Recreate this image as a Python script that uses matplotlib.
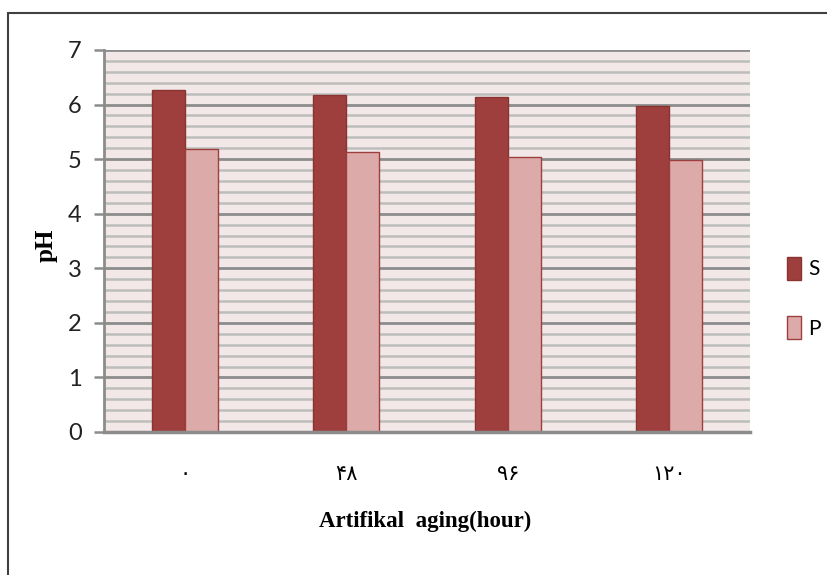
import matplotlib
matplotlib.use("Agg")
import matplotlib.pyplot as plt
import numpy as np
from matplotlib.patches import Rectangle

categories = ["۰", "۴۸", "۹۶", "۱۲۰"]
series_names = ["S", "P"]
s_values = [6.26, 6.17, 6.14, 5.97]
p_values = [5.18, 5.13, 5.04, 4.98]
y_ticks = [0, 1, 2, 3, 4, 5, 6, 7]

W, H = 828, 575
fig = plt.figure(figsize=(W / 100, H / 100), dpi=100)
ax = fig.add_axes([104 / W, 1 - 432 / H, (750 - 104) / W, (432 - 50) / H])
ax.set_facecolor("#F2E8E8")

x = np.arange(len(categories))
bw = 0.205
ax.bar(x - bw / 2, s_values, bw, color="#9E3F3D", edgecolor="#8A3432", linewidth=1, label=series_names[0], zorder=3)
ax.bar(x + bw / 2, p_values, bw, color="#DDAAAA", edgecolor="#9E3F3D", linewidth=1, label=series_names[1], zorder=3)

ax.set_xlim(-0.5, len(categories) - 0.5)
ax.set_ylim(0, 7)
ax.set_yticks(y_ticks)
ax.set_yticks(np.arange(0, 7.01, 0.2), minor=True)
ax.grid(axis="y", which="minor", color="#BDBDBD", linewidth=1.8, zorder=1)
ax.grid(axis="y", which="major", color="#8C8C8C", linewidth=2.0, zorder=2)
ax.tick_params(axis="y", which="minor", length=0)
ax.tick_params(axis="y", which="major", length=7, width=1.8, color="#8C8C8C", pad=9,
               labelsize=17)
for lab in ax.get_yticklabels():
    lab.set_family(["Lato", "DejaVu Sans"])
    lab.set_color("#222222")

ax.set_xticks(x)
ax.set_xticklabels(categories, family=["DejaVu Sans"], fontsize=15)
ax.tick_params(axis="x", length=0, pad=23)

for sp in ["top", "right"]:
    ax.spines[sp].set_visible(False)
ax.spines["left"].set_color("#8C8C8C")
ax.spines["left"].set_linewidth(2)
ax.spines["bottom"].set_color("#8C8C8C")
ax.spines["bottom"].set_linewidth(2.5)
ax.spines["bottom"].set_zorder(4)

fig.text(425 / W, 1 - 521 / H, "Artifikal  aging(hour)", ha="center", va="center",
         family=["Liberation Serif"], fontweight="bold", fontsize=16.5)
fig.text(46 / W, 1 - 245 / H, "pH", ha="center", va="center", rotation=90,
         family=["Liberation Serif"], fontweight="bold", fontsize=18)

leg = ax.legend(loc="center left", bbox_to_anchor=(783 / W, 1 - 298 / H),
                bbox_transform=fig.transFigure, frameon=False, handlelength=0.65,
                handleheight=1.3, labelspacing=1.75, handletextpad=0.35,
                borderpad=0.2, borderaxespad=0,
                prop={"family": ["Lato", "DejaVu Sans"], "size": 15})

fig.add_artist(Rectangle((8 / W, -0.1), 1.2, 1 - 13 / H + 0.1, transform=fig.transFigure,
                         fill=False, edgecolor="#404040", linewidth=1.5))

fig.savefig("out.png", dpi=100)
